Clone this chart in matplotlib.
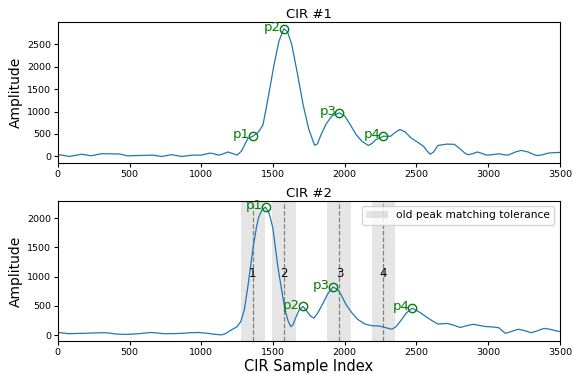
import numpy as np
import matplotlib
matplotlib.use("Agg")
import matplotlib.pyplot as plt
import matplotlib.patches as mpatches

# CIR #1 amplitude
cir1_idx = [0, 40, 80, 130, 165, 200, 230, 270, 300, 360, 430, 485, 550, 600, 660,
            725, 790, 830, 865, 910, 945, 1000, 1060, 1090, 1120, 1155, 1185, 1215,
            1250, 1280, 1325, 1360, 1400, 1430, 1460, 1505, 1540, 1575, 1600, 1630,
            1670, 1710, 1750, 1790, 1810, 1835, 1870, 1910, 1963, 2000, 2040, 2080,
            2120, 2165, 2190, 2215, 2270, 2320, 2350, 2385, 2420, 2460, 2500, 2550,
            2575, 2595, 2620, 2650, 2710, 2765, 2800, 2840, 2860, 2890, 2925, 2955,
            2990, 3030, 3075, 3110, 3140, 3190, 3230, 3280, 3320, 3345, 3380, 3420,
            3460, 3500]
cir1_amp = [40, 25, 0, 30, 50, 35, 15, 40, 60, 60, 55, 15, 20, 25, 30,
            0, 40, 20, 0, 20, 30, 30, 75, 60, 30, 60, 100, 70,
            30, 120, 400, 450, 550, 700, 1200, 2000, 2550, 2840, 2780, 2500,
            1850, 1150, 600, 250, 280, 485, 720, 900, 970, 900, 700, 485,
            340, 245, 290, 370, 450, 450, 530, 600, 550, 420, 335, 225,
            120, 50, 100, 245, 275, 270, 180, 70, 40, 60, 100, 70,
            30, 40, 60, 40, 30, 100, 135, 100, 40, 20, 40, 75,
            85, 90]

# CIR #2 amplitude
cir2_idx = [0, 40, 76, 130, 178, 230, 300, 340, 408, 485, 560, 610, 650, 700, 740,
            800, 866, 920, 981, 1045, 1090, 1140, 1170, 1200, 1225, 1250, 1275, 1300,
            1325, 1345, 1363, 1385, 1400, 1425, 1448, 1470, 1485, 1500, 1515, 1530,
            1545, 1560, 1575, 1590, 1607, 1625, 1640, 1657, 1680, 1708, 1730, 1760,
            1785, 1810, 1850, 1880, 1918, 1950, 1975, 2010, 2052, 2090, 2140, 2190,
            2243, 2280, 2330, 2360, 2395, 2430, 2470, 2510, 2550, 2600, 2650, 2690,
            2715, 2760, 2805, 2850, 2895, 2940, 2985, 3030, 3075, 3100, 3120, 3160,
            3210, 3250, 3300, 3340, 3390, 3430, 3470, 3500]
cir2_amp = [45, 35, 23, 28, 30, 35, 40, 40, 17, 12, 23, 35, 45, 35, 23,
            25, 30, 40, 45, 30, 15, 3, 25, 75, 110, 144, 230, 432,
            835, 1200, 1527, 1850, 2017, 2150, 2190, 2100, 1980, 1815, 1530, 1240,
            1000, 778, 560, 375, 230, 145, 180, 290, 420, 490, 430, 330,
            290, 370, 550, 700, 825, 780, 690, 520, 375, 270, 190, 160,
            155, 130, 100, 150, 260, 380, 460, 410, 345, 260, 190, 195,
            200, 170, 130, 160, 185, 165, 145, 140, 125, 70, 30, 60,
            100, 80, 40, 70, 115, 100, 75, 60]

# detected peaks
peaks1_idx = [1360, 1575, 1963, 2270]
peaks1_amp = [450, 2835, 970, 450]
peaks2_idx = [1448, 1708, 1918, 2470]
peaks2_amp = [2190, 490, 825, 460]
peak_names = ["p1", "p2", "p3", "p4"]

# old peak positions (from CIR #1) and matching tolerance
old_peaks = [1360, 1575, 1963, 2270]
old_labels = ["1", "2", "3", "4"]
tolerance = 83


def draw_peaks(ax, idx, amp):
    ax.plot(idx, amp, 'o', mfc='none', mec='green', ms=6, mew=1.0)
    for name, x, y in zip(peak_names, idx, amp):
        ax.annotate(name, (x, y), xytext=(-2, 1), textcoords='offset points',
                    ha='right', va='center', color='green', fontsize=9.5)


fig, (ax1, ax2) = plt.subplots(2, 1, figsize=(5.73, 3.73), dpi=100)
fig.subplots_adjust(left=0.101, right=0.977, top=0.940, bottom=0.085, hspace=0.27)

ax1.plot(cir1_idx, cir1_amp, color='tab:blue', lw=0.9)
draw_peaks(ax1, peaks1_idx, peaks1_amp)
ax1.set_title("CIR #1", fontsize=9.5, pad=3)
ax1.set_ylabel("Amplitude", fontsize=10, labelpad=3)
ax1.set_xlim(0, 3500)

for x, lab in zip(old_peaks, old_labels):
    ax2.axvspan(x - tolerance, x + tolerance, color='gray', alpha=0.2, lw=0)
    ax2.axvline(x, color='gray', ls='--', lw=0.9)
    ax2.text(x, 1050, lab, ha='center', va='center', fontsize=8.5)
ax2.plot(cir2_idx, cir2_amp, color='tab:blue', lw=0.9)
draw_peaks(ax2, peaks2_idx, peaks2_amp)
ax2.set_title("CIR #2", fontsize=9.5, pad=3)
ax2.set_ylabel("Amplitude", fontsize=10, labelpad=3)
ax2.set_xlabel("CIR Sample Index", fontsize=10.5, labelpad=1)
ax2.set_xlim(0, 3500)

patch = mpatches.Patch(color='gray', alpha=0.2, lw=0, label="old peak matching tolerance")
ax2.legend(handles=[patch], loc='upper right', fontsize=7.7)

for ax in (ax1, ax2):
    ax.tick_params(labelsize=6.8, length=3, pad=2)

fig.savefig("out.png", dpi=100)
